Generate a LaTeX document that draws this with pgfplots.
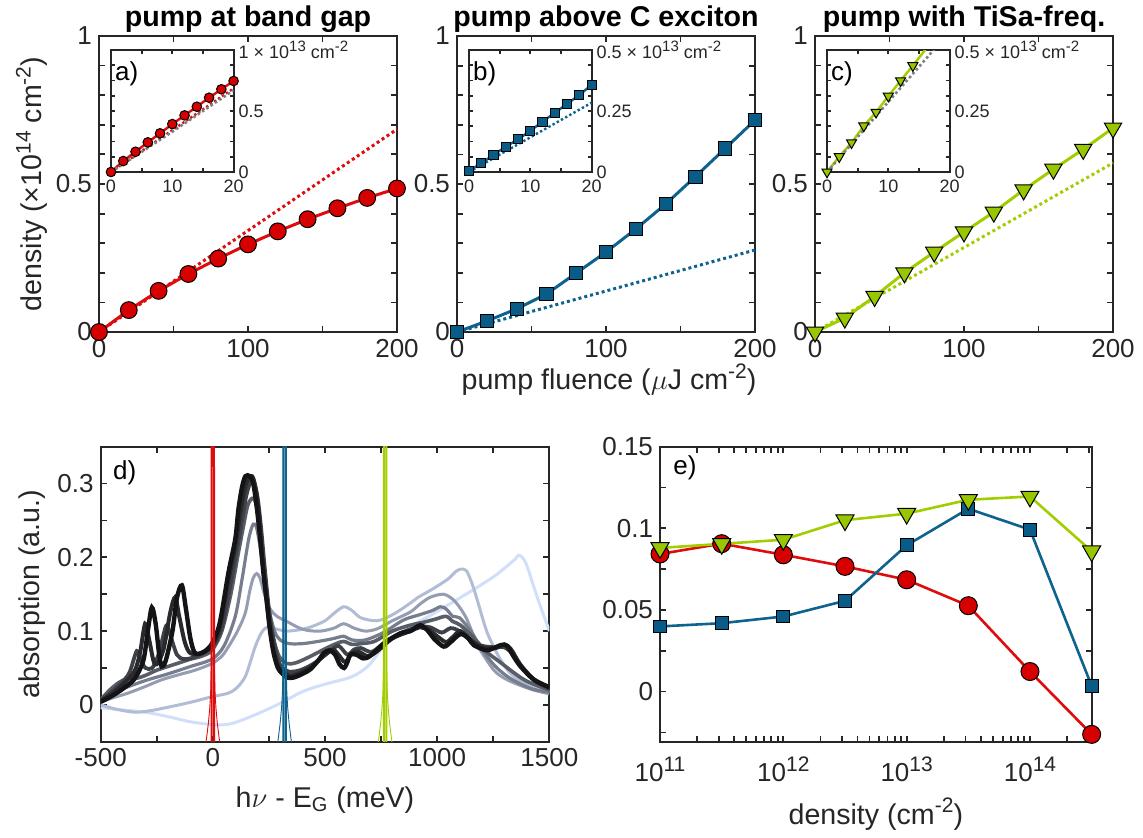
\documentclass[border=0pt]{standalone}
\usepackage{fontspec}
\setmainfont{Liberation Sans}
\usepackage{pgfplots}
\pgfplotsset{compat=1.18}

\definecolor{axgray}{RGB}{38,38,38}
\definecolor{cred}{RGB}{222,12,12}
\definecolor{credf}{RGB}{215,0,0}
\definecolor{cblue}{RGB}{14,98,142}
\definecolor{cbluef}{RGB}{10,92,136}
\definecolor{cgreen}{RGB}{162,206,0}
\definecolor{cgreenf}{RGB}{152,198,0}
\definecolor{cgrayd}{RGB}{128,128,128}
\definecolor{g0}{RGB}{20,20,22}
\definecolor{g1}{RGB}{40,42,46}
\definecolor{g2}{RGB}{62,65,72}
\definecolor{g3}{RGB}{88,93,104}
\definecolor{g4}{RGB}{118,125,140}
\definecolor{g5}{RGB}{148,157,177}
\definecolor{g6}{RGB}{178,189,213}
\definecolor{g7}{RGB}{210,223,250}

\newcommand{\sups}[1]{\raisebox{0.75ex}{\fontsize{10.5}{12}\selectfont #1}}
\newcommand{\supi}[1]{\raisebox{0.75ex}{\fontsize{7.5}{9}\selectfont #1}}

\pgfplotsset{
  every axis title shift=0pt,
  base/.style={scale only axis, anchor=south west,
    axis line style={axgray, line width=0.9pt},
    every tick/.append style={axgray, line width=0.9pt},
    major tick length=3pt, minor tick length=3pt, tick align=inside,
    tick label style={font=\fontsize{13}{15}\selectfont, text=axgray},
    label style={font=\fontsize{14.3}{16}\selectfont, text=axgray},
    title style={font=\bfseries\fontsize{14.3}{16}\selectfont, at={(axis description cs:0.5,1)}, anchor=base, yshift=4.5pt},
  },
  mainfl/.style={base, width=149pt, height=148pt, xmin=0, xmax=200, ymin=0, ymax=1,
    xtick={0,100,200}, xticklabels={0,100,200}, minor xtick={50,150},
    ytick={0,0.5,1}, yticklabels={0,0.5,1}, minor ytick={0.1,0.2,0.3,0.4,0.6,0.7,0.8,0.9},
    clip=false},
  inset/.style={base, width=61.3pt, height=61pt, xmin=0, xmax=20, ymin=0,
    axis background/.style={fill=white},
    major tick length=2pt, minor tick length=2pt,
    tick label style={font=\fontsize{9}{10}\selectfont, text=axgray},
    yticklabel style={xshift=-1pt},
    xticklabel style={yshift=-0.5pt},
    xtick={0,10,20}, xticklabels={0,10,20}, minor xtick={5,15},
    yticklabel pos=right},
  dotl/.style={line width=1.5pt, dash pattern=on 1.5pt off 1.5pt},
  mcirc/.style={mark=*, mark options={solid, fill=credf, draw=black, line width=0.5pt}},
  msq/.style={mark=square*, mark options={solid, fill=cbluef, draw=black, line width=0.5pt}},
  mtri/.style={mark=triangle*, mark options={solid, fill=cgreenf, draw=black, line width=0.5pt, rotate=180}},
  spec/.style={smooth, tension=0.5, no marks},
}

\begin{document}
\begin{tikzpicture}
\useasboundingbox (0,0) rectangle (571.5pt,418.5pt);

% ---------- panel a ----------
\begin{axis}[mainfl, at={(49.5pt,252.5pt)}, title={pump at band gap},
  ylabel={density (×10\sups{14} cm\sups{-2})},
  ylabel style={at={(axis description cs:-0.225,0.5)}, anchor=center}]
\addplot[cred, dotl] coordinates {(0,0) (200,0.685)};
\addplot[cred, line width=1.5pt, mcirc, mark size=4.2pt] coordinates {
(0,0) (20,0.074) (40,0.139) (60,0.196) (80,0.248) (100,0.296) (120,0.340) (140,0.381) (160,0.418) (180,0.453) (200,0.485)};
\end{axis}

% ---------- panel b ----------
\begin{axis}[mainfl, at={(228.5pt,252.5pt)}, title={pump above C exciton},
  xlabel={pump fluence ($\mu$J cm\sups{-2})},
  xlabel style={at={(axis description cs:0.51,-0.16)}, anchor=center}]
\addplot[cblue, dotl] coordinates {(0,0) (200,0.277)};
\addplot[cblue, line width=1.5pt, msq, mark size=3.3pt] coordinates {
(0,0) (20,0.037) (40,0.078) (60,0.128) (80,0.199) (100,0.27) (120,0.348) (140,0.432) (160,0.525) (180,0.62) (200,0.716)};
\end{axis}

% ---------- panel c ----------
\begin{axis}[mainfl, at={(407.5pt,252.5pt)}, title={pump with TiSa-freq.}]
\addplot[cgreen, dotl] coordinates {(0,0) (200,0.571)};
\addplot[cgreen, line width=1.5pt, mtri, mark size=5pt] coordinates {
(0,0) (20,0.047) (40,0.12) (60,0.2) (80,0.27) (100,0.338) (120,0.405) (140,0.48) (160,0.55) (180,0.617) (200,0.689)};
\end{axis}

% ---------- inset a ----------
\begin{axis}[inset, at={(55.5pt,332.5pt)}, ymax=1,
  ytick={0,0.5,1}, yticklabels={0,0.5,{1 × 10\supi{13} cm\supi{-2}}},
  minor ytick={0.125,0.25,0.375,0.625,0.75,0.875}, clip mode=individual]
\addplot[cred, line width=1.2pt, dash pattern=on 1.2pt off 1.2pt] coordinates {(0,0) (20,0.685)};
\addplot[cred, line width=1.2pt] coordinates {
(0,0) (2,0.09) (4,0.166) (6,0.243) (8,0.317) (10,0.393) (12,0.464) (14,0.535) (16,0.609) (18,0.678) (20,0.746)};
\addplot[cgrayd, line width=1.3pt, dash pattern=on 1.3pt off 1.3pt] coordinates {(0,0) (10,0.33) (20,0.67)};
\addplot[only marks, mcirc, mark size=2.4pt] coordinates {
(0,0) (2,0.09) (4,0.166) (6,0.243) (8,0.317) (10,0.393) (12,0.464) (14,0.535) (16,0.609) (18,0.678) (20,0.746)};
\node[anchor=north west, inner sep=0pt, font=\fontsize{13}{15}\selectfont, text=black] at (rel axis cs:0.03,0.91) {a)};
\end{axis}

% ---------- inset b ----------
\begin{axis}[inset, at={(234.5pt,332.5pt)}, ymax=0.5,
  ytick={0,0.25,0.5}, yticklabels={0,0.25,{0.5 × 10\supi{13} cm\supi{-2}}},
  minor ytick={0.0625,0.125,0.1875,0.3125,0.375,0.4375}, clip mode=individual]
\addplot[cblue, line width=1.2pt, dash pattern=on 1.2pt off 1.2pt] coordinates {(0,0) (20,0.284)};
\addplot[cblue, line width=1.2pt, msq, mark size=2.3pt] coordinates {
(0,0.005) (2,0.036) (4,0.07) (6,0.104) (8,0.134) (10,0.169) (12,0.206) (14,0.243) (16,0.279) (18,0.316) (20,0.357)};
\node[anchor=north west, inner sep=0pt, font=\fontsize{13}{15}\selectfont, text=black] at (rel axis cs:0.03,0.91) {b)};
\end{axis}

% ---------- inset c ----------
\begin{axis}[inset, at={(413.5pt,332.5pt)}, ymax=0.5,
  ytick={0,0.25,0.5}, yticklabels={0,0.25,{0.5 × 10\supi{13} cm\supi{-2}}},
  minor ytick={0.0625,0.125,0.1875,0.3125,0.375,0.4375}, clip mode=individual]
\addplot[cgreen, line width=1.2pt] coordinates {
(0,0) (2,0.063) (4,0.12) (6,0.189) (8,0.245) (10,0.311) (12,0.374) (14,0.436) (16,0.5) (18,0.565) (20,0.63)};
\addplot[cgrayd, line width=1.3pt, dash pattern=on 1.3pt off 1.3pt] coordinates {(0,0) (20,0.575)};
\addplot[only marks, mtri, mark size=2.9pt] coordinates {
(0,0) (2,0.063) (4,0.12) (6,0.189) (8,0.245) (10,0.311) (12,0.374) (14,0.436)};
\node[anchor=north west, inner sep=0pt, font=\fontsize{13}{15}\selectfont, text=black] at (rel axis cs:0.03,0.91) {c)};
\end{axis}

% ---------- panel d ----------
\begin{axis}[base, at={(50.35pt,47.65pt)}, width=224.3pt, height=147.5pt,
  xmin=-500, xmax=1500, ymin=-0.05, ymax=0.35,
  xtick={-500,0,500,1000,1500}, xticklabels={-500,0,500,1000,1500}, minor xtick={-250,250,750,1250},
  ytick={0,0.1,0.2,0.3}, yticklabels={0,0.1,0.2,0.3}, minor ytick={-0.05,0.05,0.15,0.25,0.35},
  xlabel={h$\nu$ - E\textsubscript{G} (meV)},
  xlabel style={at={(axis description cs:0.5,-0.198)}, anchor=center},
  ylabel={absorption (a.u.)},
  ylabel style={at={(axis description cs:-0.152,0.5)}, anchor=center}]
% lightest
\addplot[g7, line width=1.5pt, spec] coordinates {
(-500,-0.004) (-400,-0.007) (-300,-0.01) (-200,-0.016) (-100,-0.023) (0,-0.027) (50,-0.027) (100,-0.024) (200,-0.012) (300,0.002) (400,0.018) (500,0.028) (600,0.036) (650,0.043) (700,0.055) (750,0.075) (800,0.09) (880,0.106) (985,0.124) (1134,0.151) (1253,0.174) (1342,0.196) (1364,0.203) (1385,0.198) (1402,0.187) (1431,0.16) (1461,0.133) (1491,0.108) (1500,0.1)};
% Q
\addplot[g6, line width=1.5pt, spec] coordinates {
(-500,0.0) (-430,-0.006) (-347,-0.01) (-280,-0.008) (-228,-0.005) (-150,0.0) (-79,0.005) (-4,0.011) (70,0.016) (110,0.024) (144,0.038) (167,0.058) (189,0.079) (215,0.097) (235,0.104) (256,0.106) (280,0.103) (330,0.1) (390,0.102) (440,0.106) (500,0.114) (540,0.124) (583,0.133) (620,0.128) (660,0.118) (732,0.114) (800,0.122) (881,0.138) (911,0.145) (985,0.158) (1050,0.171) (1080,0.18) (1104,0.184) (1130,0.182) (1155,0.165) (1179,0.142) (1200,0.12) (1223,0.098) (1253,0.078) (1283,0.061) (1320,0.045) (1357,0.035) (1430,0.024) (1500,0.018)};
% P
\addplot[g5, line width=1.5pt, spec] coordinates {
(-500,0.004) (-440,0.01) (-377,0.016) (-300,0.025) (-228,0.034) (-150,0.041) (-79,0.047) (-4,0.056) (40,0.066) (70,0.079) (110,0.1) (144,0.124) (165,0.155) (180,0.172) (195,0.178) (210,0.172) (230,0.15) (255,0.13) (286,0.12) (330,0.113) (380,0.105) (420,0.101) (480,0.1) (540,0.104) (583,0.11) (630,0.104) (680,0.1) (732,0.103) (800,0.114) (881,0.126) (925,0.137) (970,0.146) (1029,0.15) (1074,0.142) (1110,0.128) (1134,0.115) (1165,0.092) (1193,0.074) (1253,0.047) (1300,0.036) (1357,0.028) (1430,0.02) (1500,0.015)};
% g4
\addplot[g4, line width=1.6pt, spec] coordinates {
(-500,0.006) (-450,0.015) (-400,0.022) (-300,0.033) (-200,0.042) (-100,0.052) (-4,0.062) (50,0.08) (100,0.12) (130,0.17) (160,0.225) (180,0.245) (195,0.24) (210,0.215) (230,0.17) (250,0.13) (275,0.1) (300,0.088) (340,0.083) (400,0.083) (470,0.086) (540,0.09) (583,0.093) (620,0.088) (680,0.088) (760,0.098) (850,0.115) (920,0.122) (980,0.128) (1014,0.133) (1040,0.13) (1070,0.12) (1100,0.118) (1150,0.1) (1200,0.075) (1260,0.052) (1330,0.035) (1420,0.022) (1500,0.017)};
% g3
\addplot[g3, line width=1.8pt, spec] coordinates {
(-500,0.007) (-460,0.02) (-420,0.03) (-377,0.036) (-340,0.036) (-300,0.04) (-250,0.047) (-200,0.052) (-150,0.057) (-100,0.062) (-50,0.066) (-4,0.074) (40,0.1) (80,0.15) (110,0.2) (135,0.24) (155,0.27) (175,0.28) (190,0.275) (205,0.25) (220,0.21) (235,0.165) (250,0.125) (270,0.09) (295,0.066) (330,0.056) (370,0.057) (430,0.065) (500,0.076) (550,0.083) (583,0.086) (620,0.082) (660,0.083) (720,0.086) (800,0.1) (880,0.108) (940,0.112) (990,0.116) (1040,0.12) (1070,0.113) (1104,0.108) (1160,0.092) (1220,0.072) (1280,0.058) (1340,0.044) (1400,0.032) (1500,0.02)};
% g2
\addplot[g2, line width=1.9pt, spec] coordinates {
(-500,0.006) (-450,0.018) (-400,0.032) (-370,0.045) (-339,0.073) (-320,0.06) (-300,0.05) (-270,0.05) (-240,0.07) (-220,0.095) (-205,0.108) (-185,0.09) (-160,0.068) (-130,0.062) (-80,0.065) (-4,0.078) (40,0.105) (80,0.165) (110,0.215) (130,0.25) (150,0.285) (170,0.303) (185,0.3) (200,0.28) (215,0.24) (230,0.19) (250,0.13) (270,0.09) (290,0.062) (310,0.05) (340,0.045) (390,0.047) (450,0.056) (520,0.072) (560,0.08) (600,0.068) (630,0.075) (660,0.077) (710,0.072) (780,0.088) (860,0.1) (920,0.106) (970,0.105) (1020,0.098) (1060,0.104) (1100,0.1) (1150,0.087) (1200,0.08) (1260,0.078) (1300,0.078) (1340,0.068) (1380,0.05) (1440,0.032) (1500,0.022)};
% g1
\addplot[g1, line width=2pt, spec] coordinates {
(-500,0.005) (-450,0.015) (-400,0.028) (-350,0.045) (-325,0.07) (-302,0.11) (-285,0.09) (-265,0.06) (-250,0.055) (-220,0.075) (-190,0.125) (-168,0.146) (-150,0.12) (-125,0.085) (-100,0.07) (-50,0.07) (-4,0.08) (30,0.105) (70,0.17) (100,0.215) (120,0.255) (140,0.29) (155,0.305) (175,0.31) (190,0.295) (205,0.26) (220,0.2) (235,0.155) (250,0.115) (270,0.075) (290,0.053) (310,0.045) (340,0.04) (380,0.042) (440,0.052) (500,0.068) (535,0.075) (560,0.068) (590,0.058) (620,0.07) (650,0.072) (690,0.066) (730,0.072) (800,0.09) (880,0.1) (920,0.105) (960,0.102) (1000,0.093) (1040,0.085) (1070,0.092) (1104,0.1) (1150,0.088) (1200,0.078) (1260,0.077) (1300,0.082) (1330,0.075) (1370,0.055) (1430,0.035) (1500,0.024)};
% g0 black
\addplot[g0, line width=2.2pt, spec] coordinates {
(-500,0.004) (-450,0.012) (-400,0.022) (-350,0.035) (-310,0.06) (-290,0.1) (-272,0.132) (-255,0.11) (-240,0.07) (-228,0.052) (-210,0.06) (-180,0.1) (-160,0.145) (-138,0.162) (-120,0.13) (-100,0.09) (-79,0.07) (-40,0.072) (-4,0.083) (30,0.11) (70,0.18) (100,0.225) (114,0.265) (130,0.295) (145,0.31) (165,0.31) (180,0.3) (195,0.27) (211,0.225) (225,0.18) (241,0.138) (255,0.1) (271,0.07) (290,0.05) (308,0.043) (330,0.037) (360,0.037) (400,0.042) (434,0.048) (470,0.06) (494,0.07) (520,0.074) (545,0.068) (565,0.055) (585,0.05) (600,0.058) (613,0.068) (640,0.068) (670,0.063) (700,0.066) (762,0.083) (836,0.097) (881,0.1) (925,0.108) (960,0.1) (985,0.09) (1029,0.079) (1060,0.085) (1104,0.096) (1140,0.09) (1163,0.081) (1223,0.074) (1283,0.081) (1312,0.08) (1340,0.066) (1372,0.052) (1431,0.034) (1491,0.025) (1500,0.024)};
% pulses: thick cores
\addplot[cred, line width=1pt] coordinates {(-5.5,-0.1) (-4.5,1) (0,3) (4.5,1) (5.5,-0.1)};
\addplot[cblue, line width=1pt] coordinates {(314.5,-0.1) (315.5,1) (320,3) (324.5,1) (325.5,-0.1)};
\addplot[cgreen, line width=1pt] coordinates {(762.5,-0.1) (763.5,1) (768,3) (772.5,1) (773.5,-0.1)};
% pulses: thin flares
\addplot[cred, line width=0.45pt] coordinates {(-35,-0.06) (-28,-0.045) (-20,-0.025) (-14,-0.005) (-10,0.015) (-7,0.05) (-5.5,0.2) (-4.5,1) (0,3) (4.5,1) (5.5,0.2) (7,0.05) (10,0.015) (14,-0.005) (20,-0.025) (28,-0.045) (35,-0.06)};
\addplot[cblue, line width=0.45pt] coordinates {(285,-0.06) (292,-0.045) (300,-0.025) (306,-0.005) (310,0.015) (313,0.05) (314.5,0.2) (315.5,1) (320,3) (324.5,1) (325.5,0.2) (327,0.05) (330,0.015) (334,-0.005) (340,-0.025) (348,-0.045) (355,-0.06)};
\addplot[cgreen, line width=0.45pt] coordinates {(733,-0.06) (740,-0.045) (748,-0.025) (754,-0.005) (758,0.015) (761,0.05) (762.5,0.2) (763.5,1) (768,3) (772.5,1) (773.5,0.2) (775,0.05) (778,0.015) (782,-0.005) (788,-0.025) (796,-0.045) (803,-0.06)};
\node[anchor=north west, inner sep=0pt, font=\fontsize{13}{15}\selectfont, text=black] at (rel axis cs:0.027,0.955) {d)};
\end{axis}

% ---------- panel e ----------
\begin{axis}[base, at={(330pt,47.65pt)}, width=215.8pt, height=147.5pt,
  xmode=log, xmin=1e11, xmax=3.1623e14, ymin=-0.0307, ymax=0.15,
  xtick={1e11,1e12,1e13,1e14}, xticklabels={10\sups{11},10\sups{12},10\sups{13},10\sups{14}},
  xticklabel style={yshift=-4pt},
  minor xtick={2e11,3e11,4e11,5e11,6e11,7e11,8e11,9e11,2e12,3e12,4e12,5e12,6e12,7e12,8e12,9e12,2e13,3e13,4e13,5e13,6e13,7e13,8e13,9e13,2e14,3e14},
  ytick={0,0.05,0.1,0.15}, yticklabels={0,0.05,0.1,0.15}, minor ytick={-0.025,0.025,0.075,0.125},
  xlabel={density (cm\sups{-2})},
  xlabel style={at={(axis description cs:0.5,-0.245)}, anchor=center},
  clip=false]
\addplot[cred, line width=1.3pt, mcirc, mark size=4.5pt] coordinates {
(1e11,0.0843) (3.1623e11,0.0906) (1e12,0.0838) (3.1623e12,0.0767) (1e13,0.0685) (3.1623e13,0.0526) (1e14,0.0123) (3.1623e14,-0.0262)};
\addplot[cblue, line width=1.3pt, msq, mark size=3.2pt] coordinates {
(1e11,0.0399) (3.1623e11,0.0419) (1e12,0.046) (3.1623e12,0.0556) (1e13,0.0896) (3.1623e13,0.112) (1e14,0.0992) (3.1623e14,0.0035)};
\addplot[cgreen, line width=1.3pt, mtri, mark size=5.2pt] coordinates {
(1e11,0.088) (3.1623e11,0.0905) (1e12,0.093) (3.1623e12,0.105) (1e13,0.109) (3.1623e13,0.1175) (1e14,0.1195) (3.1623e14,0.086)};
\node[anchor=north west, inner sep=0pt, font=\fontsize{13}{15}\selectfont, text=black] at (rel axis cs:0.03,0.97) {e)};
\end{axis}
\end{tikzpicture}
\end{document}
